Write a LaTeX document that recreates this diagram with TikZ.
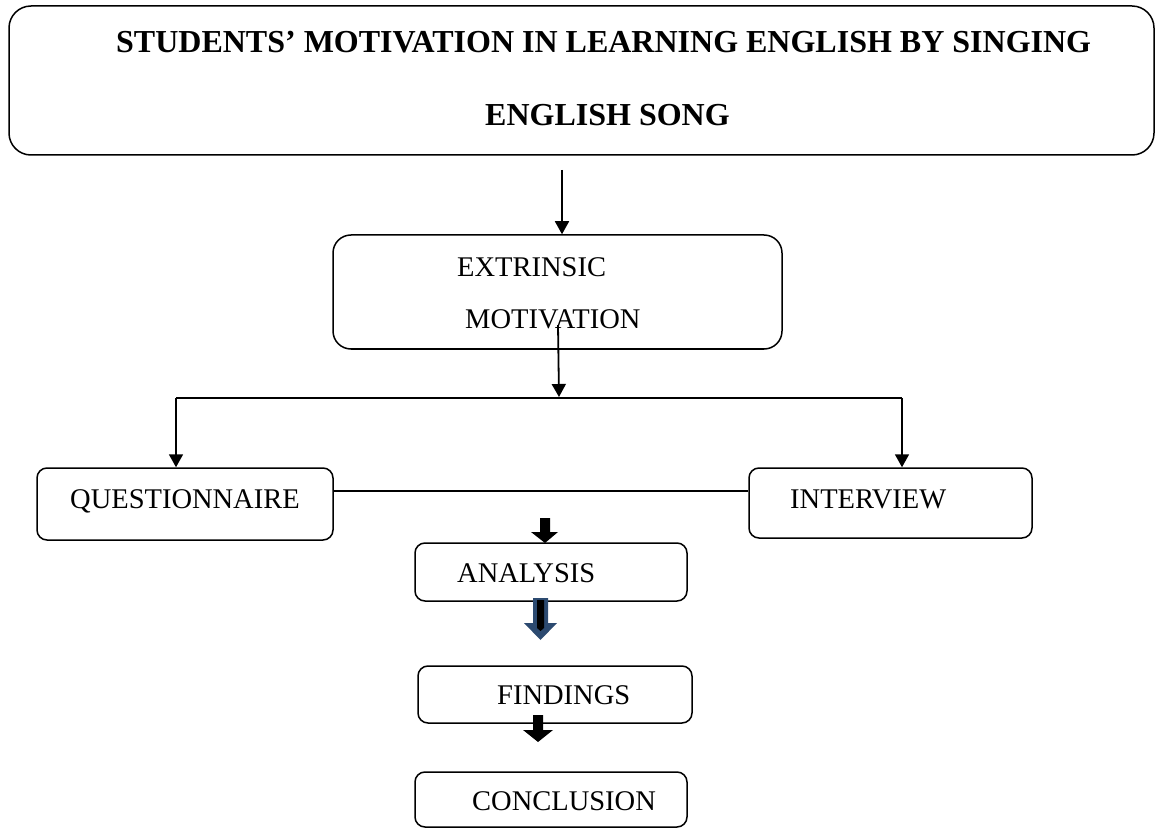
\documentclass[tikz,border=0pt]{standalone}
\usepackage{fontspec}
\setmainfont{Liberation Serif}
\usetikzlibrary{arrows.meta}
\definecolor{arrowblue}{HTML}{2C4A70}
\begin{document}
\begin{tikzpicture}[x=1pt,y=-1pt,
  box/.style={draw, line width=1.5pt, rounded corners=10pt, inner sep=0pt},
  lbl/.style={anchor=base west, inner sep=0pt, font=\fontsize{28.5}{34}\selectfont},
  ttl/.style={anchor=base west, inner sep=0pt, font=\fontsize{32}{38}\selectfont\bfseries},
  arr/.style={line width=1.8pt, -{Triangle[width=14pt,length=13pt]}},
  ln/.style={line width=1.8pt}]
\useasboundingbox (0,0) rectangle (1163,829);

% boxes
\node[box, rounded corners=22pt, minimum width=1145pt, minimum height=149pt] (title) at (581.5,80.5) {};
\node[box, rounded corners=18pt, minimum width=449pt, minimum height=114pt] (ext) at (557.5,292) {};
\node[box, minimum width=296pt, minimum height=72pt] (q) at (185,504) {};
\node[box, minimum width=283pt, minimum height=70pt] (i) at (890.5,503) {};
\node[box, minimum width=272pt, minimum height=58pt] (an) at (551,572) {};
\node[box, minimum width=274pt, minimum height=57pt] (fi) at (555,694.5) {};
\node[box, minimum width=272pt, minimum height=55pt] (co) at (551,799.5) {};

% texts
\node[ttl] (t1) at (116,53) {STUDENTS’ MOTIVATION IN LEARNING ENGLISH BY SINGING};
\node[ttl] (t2) at (485,126) {ENGLISH SONG};
\node[lbl] (e1) at (457,277) {EXTRINSIC};
\node[lbl] (e2) at (465,328) {MOTIVATION};
\node[lbl] (qt) at (70,508) {QUESTIONNAIRE};
\node[lbl] (it) at (790,508) {INTERVIEW};
\node[lbl] (at) at (457,582) {ANALYSIS};
\node[lbl] (ft) at (497,704) {FINDINGS};
\node[lbl] (ct) at (472,810) {CONCLUSION};

% connectors
\coordinate (a1) at (562,170);
\draw[arr] (a1) -- (a1 |- ext.north);
\coordinate (a2) at (558,325);
\coordinate (split) at (559,397);
\draw[arr] (a2) -- (split);
\coordinate (jl) at (176,398);
\coordinate (jr) at (902,398);
\draw[ln] (jl) -- (jr);
\draw[arr] (jl) -- (jl |- q.north);
\draw[arr] (jr) -- (jr |- i.north);
\draw[ln] (q.east |- 0,491) -- (i.west |- 0,491);

% block arrows
\fill (540,518) -- (550,518) -- (550,532) -- (558,532) -- (545,543) -- (531,532) -- (540,532) -- cycle;
\fill[arrowblue] (533,598) -- (548,598) -- (548,623) -- (557,623) -- (540.5,640) -- (524,623) -- (533,623) -- cycle;
\fill (537,600) -- (544,600) -- (544,628) -- (540.5,631) -- (537,628) -- cycle;
\fill (533,715) -- (543,715) -- (543,730) -- (553,730) -- (538,742) -- (523,730) -- (533,730) -- cycle;
\end{tikzpicture}
\end{document}
